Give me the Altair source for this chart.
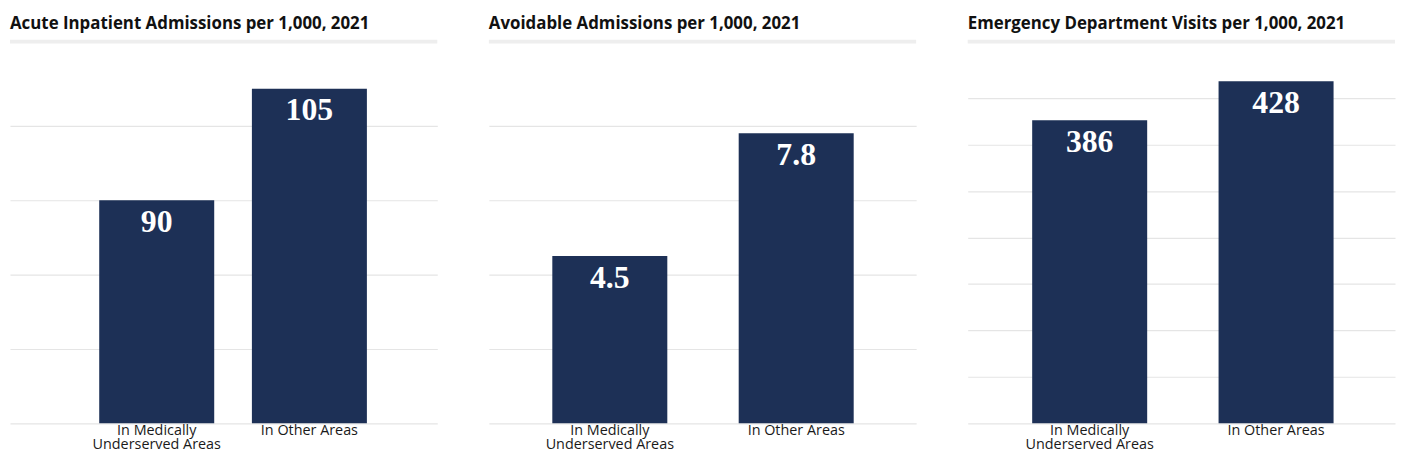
import altair as alt
import pandas as pd

categories = ["In Medically Underserved Areas", "In Other Areas"]
titles = [
    "Acute Inpatient Admissions per 1,000, 2021",
    "Avoidable Admissions per 1,000, 2021",
    "Emergency Department Visits per 1,000, 2021",
]
acute = [90, 105]
avoidable = [4.5, 7.8]
ed_visits = [386, 428]
acute_labels = ["90", "105"]
avoidable_labels = ["4.5", "7.8"]
ed_labels = ["386", "428"]

domains = [[60, 110], [0, 10], [60, 460]]
ticks = [
    [60, 70, 80, 90, 100],
    [0, 2, 4, 6, 8],
    [60, 110, 160, 210, 260, 310, 360, 410],
]
xscales = [
    dict(paddingInner=0.2468, paddingOuter=0.5228, align=0.559),
    dict(paddingInner=0.383, paddingOuter=0.3378, align=0.504),
    dict(paddingInner=0.383, paddingOuter=0.3378, align=0.512),
]

W, H = 431, 375
BAR = "#1d3056"
SANS = "Open Sans"


def panel(title, values, labels, domain, tick_vals, xs):
    df = pd.DataFrame({"cat": categories, "value": values, "label": labels})
    x = alt.X(
        "cat:N",
        sort=categories,
        title=None,
        scale=alt.Scale(**xs),
        axis=alt.Axis(
            labelAngle=0,
            ticks=False,
            tickSize=0,
            domain=False,
            labelPadding=0,
            labelFont=SANS,
            labelFontSize=14.5,
            labelColor="#1a1a1a",
            labelLineHeight=14.5,
            labelExpr="datum.label == 'In Medically Underserved Areas' ? ['In Medically', 'Underserved Areas'] : datum.label",
        ),
    )
    y = alt.Y(
        "value:Q",
        title=None,
        scale=alt.Scale(domain=domain, nice=False, zero=False),
        axis=alt.Axis(
            labels=False,
            ticks=False,
            domain=False,
            values=tick_vals,
            grid=True,
            gridColor="#e5e5e5",
            gridWidth=1.2,
        ),
    )
    base = alt.Chart(df)
    bars = base.mark_bar(color=BAR).encode(x=x, y=y, y2=alt.datum(domain[0]))
    text = base.mark_text(
        font="Liberation Serif",
        fontWeight="bold",
        fontSize=32,
        color="white",
        baseline="alphabetic",
        dy=32,
    ).encode(x=x, y=y, text="label:N")
    one = pd.DataFrame({"t": [title]})
    sep = alt.Chart(one).mark_rule(color="#eeeeee", strokeWidth=4).encode(
        x=alt.value(0), x2=alt.value(W), y=alt.value(-10)
    )
    ttl = alt.Chart(one).mark_text(
        font=SANS,
        fontWeight="bold",
        fontSize=17,
        color="#111111",
        align="left",
        baseline="alphabetic",
    ).encode(x=alt.value(0), y=alt.value(-22.5), text="t:N")
    return alt.layer(sep, ttl, bars, text).properties(width=W, height=H)


chart = alt.hconcat(
    panel(titles[0], acute, acute_labels, domains[0], ticks[0], xscales[0]),
    panel(titles[1], avoidable, avoidable_labels, domains[1], ticks[1], xscales[1]),
    panel(titles[2], ed_visits, ed_labels, domains[2], ticks[2], xscales[2]),
    spacing=48,
).properties(
    padding={"left": 0, "top": 5, "right": 0, "bottom": 0},
    background="white",
).configure_view(stroke="transparent", strokeWidth=0)

chart.save("out.html", embed_options={"renderer": "svg", "actions": False})
